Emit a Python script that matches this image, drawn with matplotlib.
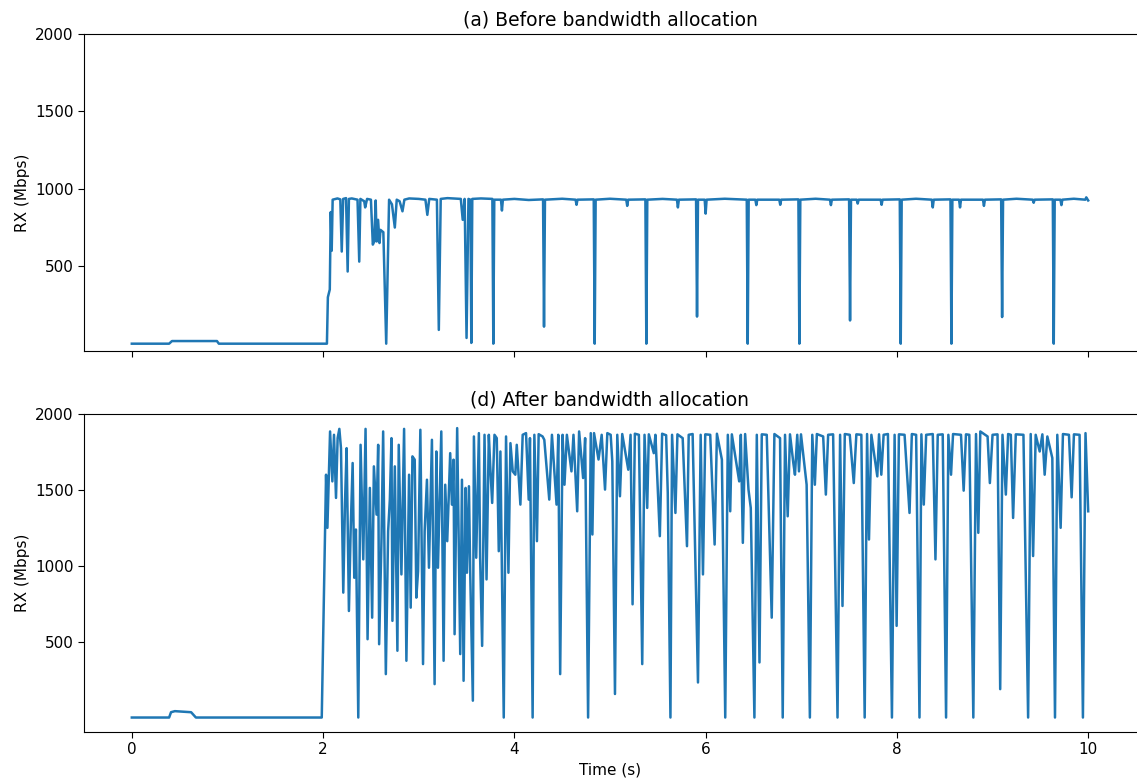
import matplotlib
matplotlib.use("Agg")
import matplotlib.pyplot as plt

# ---------------- data: (a) before bandwidth allocation ----------------
before_t = [0.00, 0.39, 0.42, 0.89, 0.91, 2.04, 2.05, 2.07, 2.08, 2.09, 2.10,
            2.15, 2.18, 2.195, 2.21, 2.24, 2.257, 2.27, 2.30, 2.36, 2.378, 2.39,
            2.43, 2.44, 2.46, 2.50, 2.52, 2.535, 2.55, 2.56, 2.575, 2.59, 2.60,
            2.63, 2.66, 2.69, 2.72, 2.75, 2.77, 2.80, 2.83, 2.85, 2.90, 3.00,
            3.07, 3.09, 3.11, 3.19, 3.21, 3.23, 3.30, 3.44, 3.46, 3.48, 3.50,
            3.52, 3.54, 3.55, 3.56, 3.65, 3.77, 3.78, 3.79, 3.86, 3.87, 3.88,
            4.00, 4.15, 4.30, 4.31, 4.32, 4.50, 4.64, 4.65, 4.66, 4.83, 4.84,
            4.85, 5.00, 5.17, 5.18, 5.19, 5.37, 5.38, 5.39, 5.55, 5.70, 5.71,
            5.72, 5.90, 5.91, 5.92, 5.99, 6.00, 6.01, 6.20, 6.43, 6.44, 6.45,
            6.52, 6.53, 6.54, 6.77, 6.78, 6.79, 6.97, 6.98, 6.99, 7.15, 7.30,
            7.31, 7.32, 7.50, 7.51, 7.52, 7.58, 7.59, 7.60, 7.83, 7.84, 7.85,
            8.03, 8.04, 8.05, 8.20, 8.365, 8.375, 8.385, 8.56, 8.57, 8.58, 8.65,
            8.66, 8.67, 8.90, 8.91, 8.92, 9.09, 9.10, 9.11, 9.25, 9.42, 9.43,
            9.44, 9.63, 9.64, 9.65, 9.71, 9.72, 9.73, 9.85, 9.97, 9.98, 10.00]
before_v = [0, 0, 17, 17, 0, 0, 300, 350, 850, 600, 930,
            938, 932, 595, 935, 940, 466, 935, 938, 930, 530, 935,
            920, 880, 935, 930, 640, 660, 925, 660, 800, 650, 735,
            720, 0, 930, 900, 750, 930, 920, 855, 930, 938, 935,
            930, 832, 935, 930, 89, 935, 940, 935, 800, 935, 37,
            935, 930, 5, 935, 938, 935, 0, 930, 930, 860, 930,
            935, 928, 932, 110, 930, 936, 930, 897, 930, 932, 0,
            930, 936, 930, 890, 930, 932, 0, 930, 935, 930, 880,
            930, 932, 175, 930, 930, 840, 930, 936, 930, 0, 930,
            930, 895, 930, 930, 897, 930, 932, 0, 930, 936, 930,
            895, 930, 932, 150, 930, 930, 905, 930, 930, 897, 930,
            932, 0, 930, 936, 930, 880, 930, 932, 0, 930, 930,
            880, 930, 930, 890, 930, 932, 172, 930, 936, 930, 910,
            930, 932, 0, 930, 930, 895, 930, 936, 930, 945, 925]

# ---------------- data: (d) after bandwidth allocation ----------------
after_t = [0.00, 0.39, 0.41, 0.45, 0.55, 0.62, 0.67, 1.986,
           2.031, 2.045, 2.073, 2.097, 2.114, 2.135, 2.152, 2.170, 2.187, 2.211,
           2.229, 2.246, 2.270, 2.288, 2.309, 2.326, 2.343, 2.368, 2.392, 2.420,
           2.444, 2.465, 2.489, 2.513, 2.531, 2.559, 2.576, 2.586, 2.611, 2.628,
           2.656, 2.680, 2.698, 2.715, 2.725, 2.750, 2.777, 2.791, 2.819, 2.847,
           2.871, 2.899, 2.916, 2.934, 2.958, 2.975, 2.993, 3.017, 3.045, 3.062,
           3.086, 3.107, 3.138, 3.166, 3.184, 3.201, 3.236, 3.260, 3.277, 3.298,
           3.329, 3.347, 3.364, 3.375, 3.402,
           3.434, 3.452, 3.469, 3.490, 3.504, 3.525, 3.538, 3.566, 3.577, 3.601,
           3.629, 3.642, 3.663, 3.688, 3.709, 3.733, 3.747, 3.768, 3.792, 3.816,
           3.837, 3.854, 3.889, 3.913, 3.938, 3.959, 3.983, 4.010, 4.025, 4.063,
           4.087, 4.122, 4.150, 4.163, 4.191, 4.209, 4.236, 4.254, 4.295, 4.313,
           4.365, 4.393, 4.441, 4.459, 4.479, 4.504, 4.524, 4.549, 4.597, 4.618,
           4.657, 4.677, 4.719, 4.740, 4.771, 4.799, 4.816, 4.833,
           4.880, 4.913, 4.948, 4.972, 5.007, 5.024, 5.052, 5.076, 5.104, 5.128,
           5.191, 5.215, 5.236, 5.260, 5.302, 5.337, 5.361, 5.389, 5.406, 5.458,
           5.475, 5.521, 5.545, 5.587, 5.604, 5.632, 5.649, 5.684, 5.705, 5.760,
           5.805, 5.823, 5.864, 5.920, 5.948, 5.972, 5.996, 6.048, 6.094, 6.118,
           6.170, 6.205, 6.232, 6.257, 6.274, 6.351, 6.368, 6.389, 6.413, 6.448,
           6.472, 6.510, 6.535, 6.563, 6.587, 6.639, 6.691, 6.719, 6.778, 6.806,
           6.830, 6.858, 6.882, 6.917, 6.934, 6.958, 6.976, 6.997, 7.056, 7.090,
           7.115, 7.142, 7.163, 7.229, 7.257, 7.281, 7.333, 7.379, 7.406, 7.431,
           7.455, 7.507, 7.549, 7.576, 7.628, 7.663, 7.688, 7.708, 7.733, 7.795,
           7.813, 7.837, 7.861, 7.906, 7.948, 7.976, 7.997, 8.021, 8.080, 8.132,
           8.156, 8.201, 8.236, 8.256, 8.281, 8.306, 8.375, 8.403, 8.427, 8.479,
           8.514, 8.538, 8.566, 8.587, 8.670, 8.698, 8.722, 8.757, 8.799, 8.827,
           8.851, 8.872, 8.948, 8.972, 9.000, 9.052, 9.080, 9.104, 9.139, 9.163,
           9.191, 9.215, 9.243, 9.323, 9.372, 9.399, 9.424, 9.451, 9.493, 9.521,
           9.545, 9.573, 9.625, 9.653, 9.677, 9.712, 9.736, 9.799, 9.827, 9.851,
           9.910, 9.945, 9.972, 10.00]
after_v = [0, 0, 35, 42, 38, 35, 0, 0,
           1600, 1250, 1885, 1556, 1863, 1447, 1841, 1902, 1775, 823,
           1414, 1775, 702, 1228, 1677, 921, 1239, 0, 1797, 1042,
           1902, 516, 1513, 658, 1655, 1337, 1797, 483, 1184, 1885,
           286, 1228, 1436, 1841, 637, 1655, 440, 1797, 943, 1902,
           374, 1600, 724, 1721, 1699, 790, 965, 1896, 352, 1228,
           1567, 987, 1830, 220, 1753, 987, 1885, 374, 1534, 1162,
           1742, 1403, 1699, 549, 1907,
           418, 1567, 242, 1513, 954, 1524, 965, 111, 1852, 1053,
           1874, 1053, 472, 1863, 910, 1863, 1666, 1414, 1863, 1841,
           1096, 1753, 0, 1852, 954, 1808, 1622, 1600, 1797, 1403,
           1863, 1874, 1436, 1841, 0, 1863, 1162, 1867, 1852, 1830,
           1436, 1863, 1403, 1863, 286, 1863, 1534, 1863, 1622, 1863,
           1359, 1885, 1578, 1841, 0, 1874, 1206, 1874,
           1700, 1863, 1502, 1874, 1863, 1688, 155, 1863, 1458, 1868,
           1633, 1863, 746, 1870, 1863, 352, 1863, 1381, 1866, 1742,
           1863, 1195, 1870, 1860, 1480, 0, 1863, 1348, 1866, 1841,
           1129, 1863, 1868, 231, 1863, 943, 1866, 1863, 1140, 1870,
           1699, 0, 1863, 1359, 1866, 1556, 1863, 1151, 1868, 1502,
           1381, 0, 1863, 363, 1866, 1863, 658, 1868, 1841, 0,
           1863, 1326, 1866, 1677, 1600, 1863, 1622, 1866, 1534, 0,
           1863, 1534, 1868, 1852, 1469, 1863, 1866, 0, 1863, 735,
           1868, 1863, 1545, 1866, 1863, 0, 1868, 1173, 1863, 1589,
           1866, 1600, 1863, 1868, 0, 1863, 604, 1866, 1863, 1348,
           1868, 1863, 0, 1866, 1403, 1863, 1868, 1042, 1863, 1866,
           0, 1863, 1600, 1868, 1863, 1495, 1866, 1863, 0, 1868,
           1217, 1885, 1852, 1545, 1863, 1866, 187, 1863, 1469, 1868,
           1863, 1315, 1866, 1863, 0, 1868, 1064, 1863, 1753, 1866,
           1600, 1852, 1710, 0, 1863, 1250, 1868, 1863, 1451, 1866,
           1863, 0, 1874, 1359]

titles = ["(a) Before bandwidth allocation", "(d) After bandwidth allocation"]
y_ticks = [500, 1000, 1500, 2000]
x_ticks = [0, 2, 4, 6, 8, 10]

plt.rcParams.update({
    "font.size": 11,
    "xtick.labelsize": 11,
    "ytick.labelsize": 11,
    "axes.labelsize": 11,
    "xtick.major.size": 4,
    "ytick.major.size": 4,
})

W, H = 1137, 780
fig = plt.figure(figsize=(W / 100, H / 100), dpi=100)
ax1 = fig.add_axes([84 / W, (H - 351) / H, 1052 / W, 317 / H])
ax2 = fig.add_axes([84 / W, (H - 732) / H, 1052 / W, 318 / H], sharex=ax1)

for ax, t, v, title in [(ax1, before_t, before_v, titles[0]),
                        (ax2, after_t, after_v, titles[1])]:
    ax.plot(t, v, color="#1f77b4", lw=1.8)
    ax.set_ylim(top=2000)
    ax.set_yticks(y_ticks)
    ax.set_ylabel("RX (Mbps)")
    ax.set_title(title, fontsize=13.5)
    ax.spines["right"].set_visible(False)

ax2.set_xticks(x_ticks)
ax2.set_xlabel("Time (s)")
plt.setp(ax1.get_xticklabels(), visible=False)

fig.savefig("out.png", dpi=100)
